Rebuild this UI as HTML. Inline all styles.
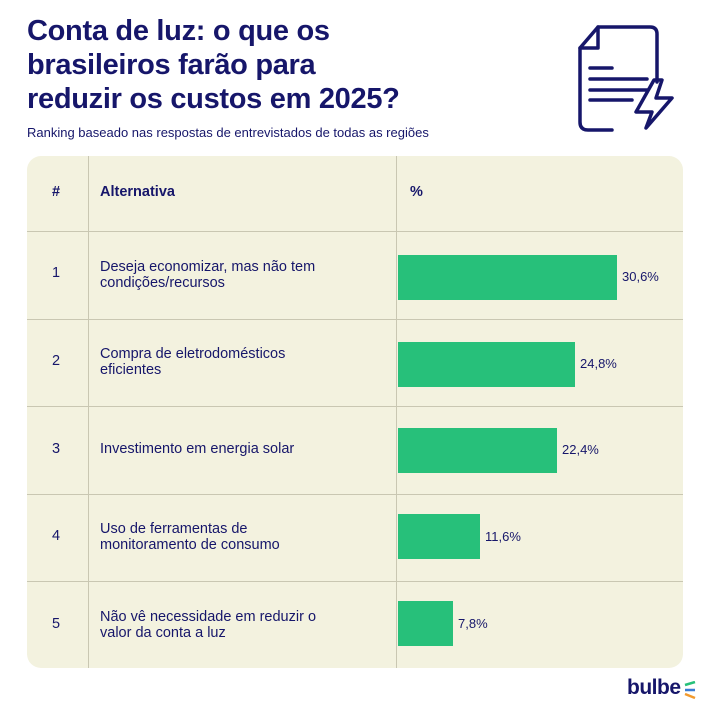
<!DOCTYPE html>
<html><head><meta charset="utf-8"><style>
body{margin:0;width:709px;height:709px;background:#fff;position:relative;overflow:hidden;font-family:"Liberation Sans",sans-serif;color:#16166a}
.t{position:absolute;left:27px;top:14px;font-size:29px;font-weight:bold;line-height:34px;letter-spacing:-0.3px}
.sub{position:absolute;left:27px;top:125px;font-size:13px}
.card{position:absolute;left:27px;top:156px;width:656px;height:512px;background:#f3f2df;border-radius:14px;overflow:hidden}
.hl{position:absolute;left:0;width:656px;height:1px;background:#c9c7b2}
.vl{position:absolute;top:0;height:512px;width:1px;background:#c9c7b2}
.a{position:absolute;font-size:14.5px;line-height:16px}
.n{position:absolute;left:25px;font-size:14.5px}
.b{position:absolute;left:371px;height:45px;background:#27c07a}
.p{position:absolute;font-size:13px}
.h{position:absolute;top:28px;font-weight:bold;font-size:14.5px}
</style></head><body>
<div class="t">Conta de luz: o que os<br>brasileiros farão para<br>reduzir os custos em 2025?</div>
<div class="sub">Ranking baseado nas respostas de entrevistados de todas as regiões</div>
<svg style="position:absolute;left:570px;top:20px" width="110" height="120" viewBox="570 20 110 120">
<g fill="none" stroke="#16166a" stroke-width="3.5" stroke-linejoin="round" stroke-linecap="round">
<path d="M612,130 H588 Q580,130 580,122 V48 L598,27 H650 Q657,27 657,34 V82"/>
<path d="M580,48 H598 V27"/>
<path d="M590,68 H612 M590,79 H647 M590,90 H647 M590,100 H632"/>
<path d="M658,86 L640,118 H656 L650,134 L676,104 H660 L666,86 Z" transform="translate(-4,-6)"/>
</g></svg>
<div class="card">
<div class="hl" style="top:75px"></div><div class="hl" style="top:163px"></div><div class="hl" style="top:250px"></div><div class="hl" style="top:338px"></div><div class="hl" style="top:425px"></div>
<div class="vl" style="left:61px"></div><div class="vl" style="left:369px"></div>
<div class="h" style="left:25px">#</div><div class="h" style="left:73px">Alternativa</div><div class="h" style="left:383px">%</div>
<div class="n" style="top:109px">1</div><div class="a" style="left:73px;top:103px">Deseja economizar, mas não tem<br>condições/recursos</div>
<div class="b" style="top:99px;width:219px"></div><div class="p" style="left:595px;top:113px">30,6%</div>
<div class="n" style="top:197px">2</div><div class="a" style="left:73px;top:190px">Compra de eletrodomésticos<br>eficientes</div>
<div class="b" style="top:186px;width:177px"></div><div class="p" style="left:553px;top:200px">24,8%</div>
<div class="n" style="top:285px">3</div><div class="a" style="left:73px;top:285px">Investimento em energia solar</div>
<div class="b" style="top:272px;width:159px"></div><div class="p" style="left:535px;top:286px">22,4%</div>
<div class="n" style="top:372px">4</div><div class="a" style="left:73px;top:365px">Uso de ferramentas de<br>monitoramento de consumo</div>
<div class="b" style="top:358px;width:82px"></div><div class="p" style="left:458px;top:373px">11,6%</div>
<div class="n" style="top:460px">5</div><div class="a" style="left:73px;top:453px">Não vê necessidade em reduzir o<br>valor da conta a luz</div>
<div class="b" style="top:445px;width:55px"></div><div class="p" style="left:431px;top:460px">7,8%</div>
</div>
<div style="position:absolute;left:627px;top:676px;font-size:21px;font-weight:bold;color:#16166a;letter-spacing:-0.5px">bulbe</div>
<svg style="position:absolute;left:683px;top:681px" width="14" height="20"><path d="M2,4 L12,1" stroke="#27c07a" stroke-width="2.5"/><path d="M2,9 L12,9" stroke="#3a7bd5" stroke-width="2.5"/><path d="M2,13 L12,17" stroke="#f29a2e" stroke-width="2.5"/></svg>
</body></html>
